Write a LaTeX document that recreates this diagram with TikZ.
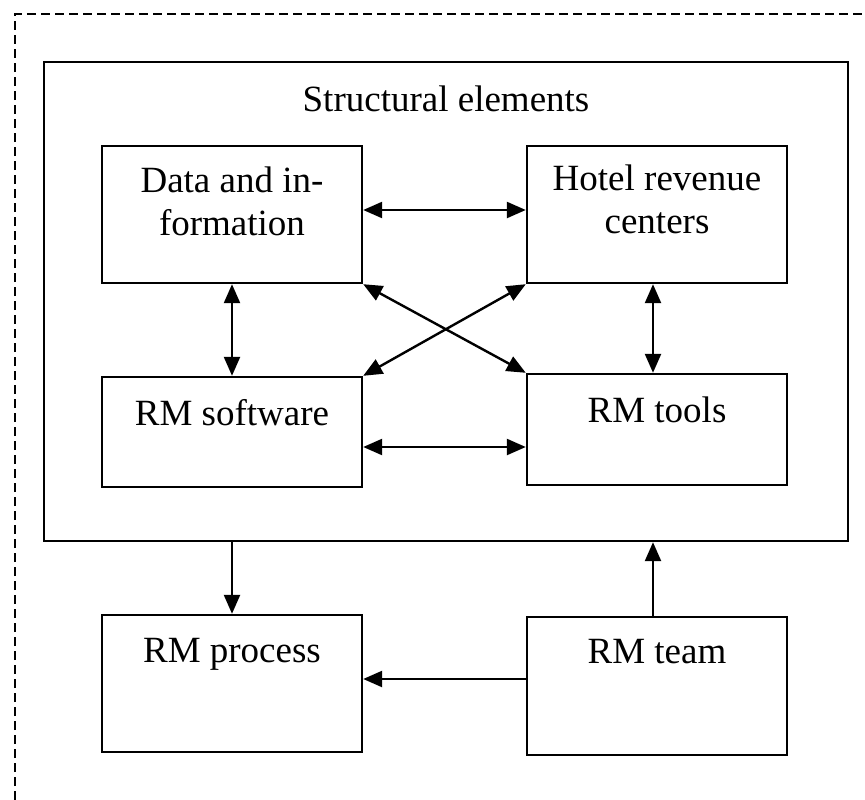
\documentclass[tikz,border=0pt]{standalone}
\usepackage{fontspec}
\setmainfont{Liberation Serif}
\usetikzlibrary{arrows.meta}
\begin{document}
\begin{tikzpicture}[x=1pt,y=-1pt,
  box/.style={draw,line width=2.4pt,inner sep=0pt},
  lbl/.style={font=\fontsize{37}{43}\selectfont,anchor=base,align=center,inner sep=0pt},
  conn/.style={line width=2.4pt,-{Triangle[length=19pt,width=16pt]}},
  both/.style={line width=2.4pt,{Triangle[length=19pt,width=16pt]}-{Triangle[length=19pt,width=16pt]}}]
\useasboundingbox (0,0) rectangle (865,800);

% dashed frame, open to the right and bottom
\draw[line width=2.2pt,dash pattern=on 9pt off 5pt] (15,800) -- (15,14) -- (865,14);

% container of the structural elements
\node[box,minimum width=804pt,minimum height=479pt] (outer) at (446,301.5) {};
\node[lbl] (outerT) at (446,111) {Structural elements};

% inner boxes
\node[box,minimum width=260pt,minimum height=137pt] (data) at (232,214.5) {};
\node[box,minimum width=260pt,minimum height=137pt] (hotel) at (657,214.5) {};
\node[box,minimum width=260pt,minimum height=110pt] (soft) at (232,432) {};
\node[box,minimum width=260pt,minimum height=111pt] (tools) at (657,429.5) {};
\node[lbl] (dataT) at (232,235) {Data and in-\\formation};
\node[lbl] (hotelT) at (657,233) {Hotel revenue\\centers};
\node[lbl] (softT) at (232,425) {RM software};
\node[lbl] (toolsT) at (657,422) {RM tools};

% boxes below the container
\node[box,minimum width=260pt,minimum height=137pt] (proc) at (232,683.5) {};
\node[box,minimum width=260pt,minimum height=138pt] (team) at (657,686) {};
\node[lbl] (procT) at (232,662) {RM process};
\node[lbl] (teamT) at (657,663) {RM team};

% links between the structural elements
\draw[both] ([yshift=4.5pt]data.east) -- ([yshift=4.5pt]data.east -| hotel.west);
\draw[both] ([yshift=-15pt]soft.east) -- ([yshift=-15pt]soft.east -| tools.west);
\draw[both] (data.south) -- (soft.north);
\draw[both] ([xshift=-4pt]hotel.south) -- ([xshift=-4pt]tools.north);
\draw[both] (data.south east) -- (tools.north west);
\draw[both] (hotel.south west) -- (soft.north east);

% links to the process and the team
\draw[conn] (proc.north |- outer.south) -- (proc.north);
\draw[conn] ([xshift=-4pt]team.north) -- ([xshift=-4pt]team.north |- outer.south);
\draw[conn] ([yshift=7pt]team.west) -- ([yshift=7pt]team.west -| proc.east);
\end{tikzpicture}
\end{document}
